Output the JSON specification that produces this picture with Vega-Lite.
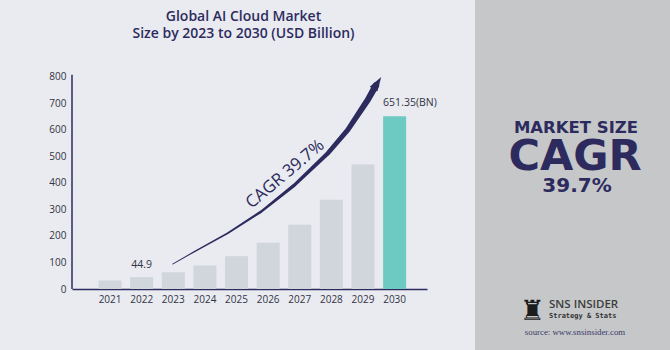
{
  "$schema": "https://vega.github.io/schema/vega-lite/v6.json",
  "background": "#e9ebf0",
  "padding": {"left": 48, "top": 0, "right": 0, "bottom": 0},
  "spacing": 38,
  "config": {"view": {"stroke": null}, "font": "Open Sans", "axis": {"labelFont": "Open Sans", "labelOverlap": false}},
  "datasets": {
    "market": [
      {"year": "2021", "value": 32},
      {"year": "2022", "value": 44.9, "label": "44.9"},
      {"year": "2023", "value": 63},
      {"year": "2024", "value": 89},
      {"year": "2025", "value": 124},
      {"year": "2026", "value": 174},
      {"year": "2027", "value": 242},
      {"year": "2028", "value": 337},
      {"year": "2029", "value": 470},
      {"year": "2030", "value": 651.35, "label": "651.35(BN)"}
    ],
    "arrow": [
      {"year": 2022.98, "value": 94},
      {"year": 2023.67, "value": 141},
      {"year": 2024.72, "value": 210},
      {"year": 2025.78, "value": 292},
      {"year": 2026.83, "value": 392},
      {"year": 2027.89, "value": 512},
      {"year": 2028.52, "value": 600},
      {"year": 2029.15, "value": 713},
      {"year": 2029.41, "value": 768}
    ]
  },
  "hconcat": [
    {
      "width": 355,
      "height": 289,
      "view": {"fill": "#e9ebf0"},
      "title": {
        "text": ["Global AI Cloud Market", "Size by 2023 to 2030 (USD Billion)"],
        "anchor": "middle", "frame": "group", "dx": -6, "offset": -41, "baseline": "top",
        "fontSize": 14, "fontWeight": 600, "font": "Open Sans", "color": "#2d2b5e", "lineHeight": 17
      },
      "layer": [
        {
          "data": {"name": "market"},
          "layer": [
            {
              "mark": {"type": "bar"},
              "encoding": {
                "x": {"field": "year", "type": "nominal", "sort": null,
                  "scale": {"paddingInner": 0.272, "paddingOuter": 0.75, "align": 0.56},
                  "axis": {"title": null, "labelAngle": 0, "ticks": false, "domainColor": "#2d2b5e", "domainWidth": 1.5,
                    "labelFontSize": 10, "labelColor": "#333344", "labelPadding": 5, "grid": false}},
                "y": {"field": "value", "type": "quantitative",
                  "scale": {"domain": [0, 1090.2], "nice": false, "zero": true},
                  "axis": {"title": null, "values": [0, 100, 200, 300, 400, 500, 600, 700, 800], "tickCount": 12, "domain": false, "ticks": false,
                    "grid": false, "labelFontSize": 10, "labelColor": "#333344", "labelPadding": 6, "labelOverlap": false, "labelFlush": false}},
                "color": {"condition": {"test": "datum.year == '2030'", "value": "#6dcac3"}, "value": "#d0d6db"}
              }
            },
            {
              "transform": [{"filter": "datum.year == '2022'"}],
              "mark": {"type": "text", "baseline": "bottom", "dy": -7, "fontSize": 10.5, "color": "#333344"},
              "encoding": {
                "x": {"field": "year", "type": "nominal", "sort": null},
                "y": {"field": "value", "type": "quantitative", "title": null},
                "text": {"field": "label"}
              }
            },
            {
              "transform": [{"filter": "datum.year == '2030'"}],
              "mark": {"type": "text", "baseline": "bottom", "align": "left", "dy": -8, "fontSize": 10.5, "color": "#333344"},
              "encoding": {
                "x": {"field": "year", "type": "nominal", "sort": null, "bandPosition": 0},
                "y": {"field": "value", "type": "quantitative", "title": null},
                "text": {"field": "label"}
              }
            }
          ]
        },
        {
          "data": {"values": [{}]},
          "mark": {"type": "rule", "color": "#2d2b5e", "strokeWidth": 1.5},
          "encoding": {
            "x": {"value": 0},
            "y": {"datum": 0, "type": "quantitative", "title": null},
            "y2": {"datum": 808}
          }
        },
        {
          "layer": [
            {
              "data": {"name": "arrow"},
              "mark": {"type": "trail", "color": "#2d2b5e"},
              "encoding": {
                "x": {"field": "year", "type": "quantitative", "scale": {"domain": [2019.798, 2031.025], "nice": false, "zero": false}, "axis": null},
                "y": {"field": "value", "type": "quantitative", "title": null},
                "size": {"field": "value", "type": "quantitative", "scale": {"domain": [94, 768], "range": [0.8, 6.5], "zero": false}, "legend": null}
              }
            },
            {
              "data": {"values": [{}]},
              "mark": {"type": "point", "shape": "M0,-1L0.45,0.45L-0.45,0.45Z", "filled": true, "color": "#2d2b5e", "opacity": 1, "size": 400, "angle": 32},
              "encoding": {
                "x": {"datum": 2029.41, "type": "quantitative"},
                "y": {"datum": 768, "type": "quantitative", "title": null}
              }
            },
            {
              "data": {"values": [{}]},
              "mark": {"type": "text", "text": "CAGR 39.7%", "angle": -40, "fontSize": 17, "fontWeight": 500, "color": "#2d2b5e", "align": "center", "baseline": "middle"},
              "encoding": {
                "x": {"datum": 2026.54, "type": "quantitative"},
                "y": {"datum": 433, "type": "quantitative", "title": null}
              }
            }
          ]
        }
      ],
      "resolve": {"scale": {"x": "independent"}}
    },
    {
      "width": 196,
      "height": 350,
      "view": {"fill": "#c6c7c9"},
      "data": {"values": [{}]},
      "layer": [
        {"mark": {"type": "text", "text": "MARKET SIZE", "x": 101, "y": 133, "align": "center", "baseline": "alphabetic", "font": "DejaVu Sans", "fontWeight": "bold", "fontSize": 16.5, "color": "#2d2b5e"}},
        {"mark": {"type": "text", "text": "CAGR", "x": 100, "y": 170, "align": "center", "baseline": "alphabetic", "font": "DejaVu Sans", "fontWeight": "bold", "fontSize": 43, "color": "#2d2b5e"}},
        {"mark": {"type": "text", "text": "39.7%", "x": 102, "y": 192, "align": "center", "baseline": "alphabetic", "font": "DejaVu Sans", "fontWeight": "bold", "fontSize": 20, "color": "#2d2b5e"}},
        {"mark": {"type": "text", "text": "♜", "x": 57, "y": 320, "align": "center", "baseline": "alphabetic", "font": "DejaVu Sans", "fontSize": 28, "color": "#1c1c1c"}},
        {"mark": {"type": "text", "text": "SNS INSIDER", "x": 74, "y": 308, "align": "left", "baseline": "alphabetic", "font": "Open Sans", "fontWeight": 600, "fontSize": 11.5, "color": "#3c3c3c"}},
        {"mark": {"type": "text", "text": "Strategy & Stats", "x": 74, "y": 318, "align": "left", "baseline": "alphabetic", "font": "DejaVu Sans Mono", "fontWeight": "bold", "fontSize": 7, "color": "#333333"}},
        {"mark": {"type": "text", "text": "source: www.snsinsider.com", "x": 100, "y": 335, "align": "center", "baseline": "alphabetic", "font": "Liberation Serif", "fontSize": 8.8, "color": "#3b3a6b"}}
      ]
    }
  ]
}
